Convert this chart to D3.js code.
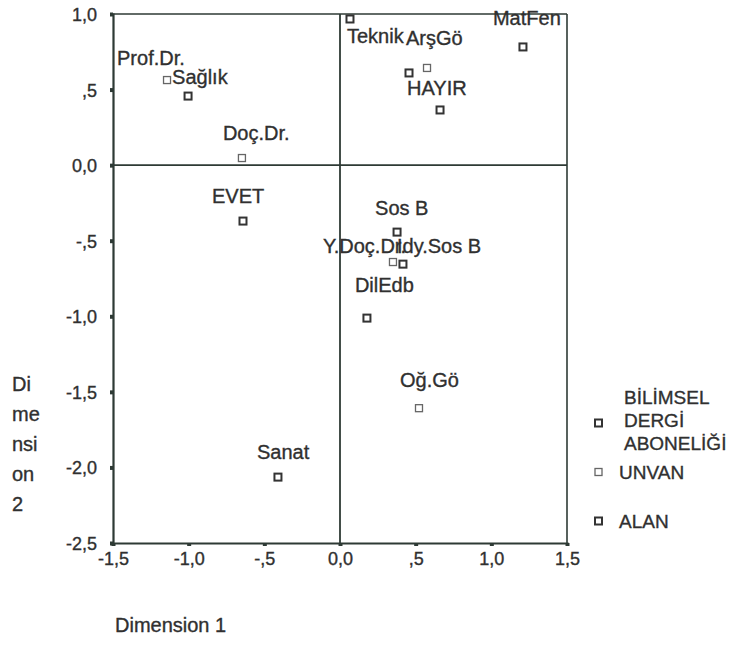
<html>
  <body style="margin:0;background:#fff">
    <script src="https://cdn.jsdelivr.net/npm/d3@7"></script>
    <svg id="chart"></svg>
    <script>
      // BİLİMSEL DERGİ ABONELİĞİ
      const aboneNames = ['EVET', 'HAYIR'];
      const aboneX = [-0.641, 0.661];
      const aboneY = [-0.370, 0.365];

      // UNVAN
      const unvanNames = ['Prof.Dr.', 'Doç.Dr.', 'Y.Doç.Dr.', 'ArşGö', 'Oğ.Gö'];
      const unvanX = [-1.143, -0.648, 0.350, 0.575, 0.522];
      const unvanY = [0.563, 0.047, -0.641, 0.643, -1.608];

      // ALAN (one point near 0.46/0.61 has no readable label)
      const alanNames = ['Sağlık', 'Teknik', '', 'MatFen', 'Sos B', 'Idy.Sos B', 'DilEdb', 'Sanat'];
      const alanX = [-1.004, 0.066, 0.456, 1.209, 0.377, 0.416, 0.178, -0.410];
      const alanY = [0.457, 0.967, 0.610, 0.782, -0.443, -0.655, -1.012, -2.064];

      const xTickValues = [-1.5, -1.0, -0.5, 0.0, 0.5, 1.0, 1.5];
      const xTickLabels = ['-1,5', '-1,0', '-,5', '0,0', ',5', '1,0', '1,5'];
      const yTickValues = [1.0, 0.5, 0.0, -0.5, -1.0, -1.5, -2.0, -2.5];
      const yTickLabels = ['1,0', ',5', '0,0', '-,5', '-1,0', '-1,5', '-2,0', '-2,5'];

      const legendTitle = ['BİLİMSEL', 'DERGİ', 'ABONELİĞİ'];
      const legendNames = ['UNVAN', 'ALAN'];
      const yTitle = ['Di', 'me', 'nsi', 'on', '2'];
      const xTitle = 'Dimension 1';

      // label placement, pixels relative to the point
      const labelNudge = {
        'EVET': [-31, -18], 'HAYIR': [-33, -15],
        'Prof.Dr.': [-50, -15], 'Doç.Dr.': [-19, -18], 'Y.Doç.Dr.': [-70, -9],
        'ArşGö': [-21, -23], 'Oğ.Gö': [-19, -21],
        'Sağlık': [-16, -12], 'Teknik': [-3, 24], 'MatFen': [-30, -22],
        'Sos B': [-22, -17], 'Idy.Sos B': [-6, -11], 'DilEdb': [-12, -26], 'Sanat': [-21, -18]
      };

      const W = 738, H = 647;
      const ink = '#2e3a35';
      const textInk = '#303030';
      const font = 'Liberation Sans, Arial, sans-serif';

      const svg = d3.select('#chart').attr('width', W).attr('height', H)
        .style('font-family', font);

      const x = d3.scaleLinear().domain([-1.5, 1.5]).range([113, 567]);
      const y = d3.scaleLinear().domain([-2.5, 1.0]).range([543, 14]);

      const ts = sel => sel.attr('fill', textInk).attr('stroke', textInk).attr('stroke-width', 0.35);

      // frame
      const frame = svg.append('g').attr('stroke', ink).attr('fill', 'none');
      frame.append('line').attr('x1', x(-1.5)).attr('x2', x(1.5)).attr('y1', y(1)).attr('y2', y(1)).attr('stroke-width', 1.6);
      frame.append('line').attr('x1', x(1.5)).attr('x2', x(1.5)).attr('y1', y(1)).attr('y2', y(-2.5)).attr('stroke-width', 1.6);
      // reference lines at 0
      frame.append('line').attr('x1', x(0)).attr('x2', x(0)).attr('y1', y(1)).attr('y2', y(-2.5)).attr('stroke-width', 1.8);
      frame.append('line').attr('x1', x(-1.5)).attr('x2', x(1.5)).attr('y1', y(0)).attr('y2', y(0)).attr('stroke-width', 1.6);

      // axes
      const xAxis = d3.axisBottom(x).tickValues(xTickValues).tickSize(3).tickPadding(5)
        .tickFormat((d, i) => xTickLabels[i]);
      const gx = svg.append('g').attr('transform', `translate(0,${y(-2.5)})`).call(xAxis);
      const yAxis = d3.axisLeft(y).tickValues(yTickValues).tickSize(3).tickPadding(13)
        .tickFormat((d, i) => yTickLabels[i]);
      const gy = svg.append('g').attr('transform', `translate(${x(-1.5)},0)`).call(yAxis);
      [gx, gy].forEach(g => {
        g.select('.domain').attr('stroke', ink).attr('stroke-width', 2.2);
        g.selectAll('.tick line').attr('stroke', ink).attr('stroke-width', 4);
        g.selectAll('.tick text').call(ts).style('font-size', '18px').style('font-family', font);
      });
      gx.selectAll('.tick text').attr('dy', '0.75em');
      gy.selectAll('.tick text').attr('dy', '0.36em');

      // points
      const points = [];
      aboneNames.forEach((n, i) => points.push({ name: n, x: aboneX[i], y: aboneY[i], light: false }));
      unvanNames.forEach((n, i) => points.push({ name: n, x: unvanX[i], y: unvanY[i], light: true }));
      alanNames.forEach((n, i) => points.push({ name: n, x: alanX[i], y: alanY[i], light: false }));

      const marker = (sel, light) => sel
        .attr('fill', '#fff')
        .attr('stroke', light ? '#666' : '#333')
        .attr('stroke-width', light ? 1.3 : 2)
        .attr('width', 7)
        .attr('height', 7);

      svg.append('g').selectAll('rect').data(points).join('rect')
        .each(function (d) { marker(d3.select(this), d.light); })
        .attr('x', d => x(d.x) - 3.5)
        .attr('y', d => y(d.y) - 3.5);

      svg.append('g').selectAll('text').data(points.filter(d => d.name)).join('text')
        .attr('x', d => x(d.x) + labelNudge[d.name][0])
        .attr('y', d => y(d.y) + labelNudge[d.name][1])
        .call(ts)
        .style('font-size', '20px')
        .text(d => d.name);

      // axis titles
      svg.append('g').selectAll('text').data(yTitle).join('text')
        .attr('x', 12).attr('y', (d, i) => 391 + i * 30)
        .call(ts).style('font-size', '20px').text(d => d);
      svg.append('text').attr('x', 115).attr('y', 632)
        .call(ts).style('font-size', '20px').text(xTitle);

      // legend
      const lg = svg.append('g');
      lg.selectAll('text.title').data(legendTitle).join('text').attr('class', 'title')
        .attr('x', 624).attr('y', (d, i) => 404 + i * 23)
        .call(ts).style('font-size', '19px').text(d => d);
      const legendRows = [{ y: 423, light: false }, { y: 472, light: true }, { y: 521, light: false }];
      lg.selectAll('rect').data(legendRows).join('rect')
        .each(function (d) { marker(d3.select(this), d.light); })
        .attr('x', 595).attr('y', d => d.y - 3.5);
      lg.selectAll('text.name').data(legendNames).join('text').attr('class', 'name')
        .attr('x', 619).attr('y', (d, i) => legendRows[i + 1].y + 7)
        .call(ts).style('font-size', '19px').text(d => d);
    </script>
  </body>
</html>
